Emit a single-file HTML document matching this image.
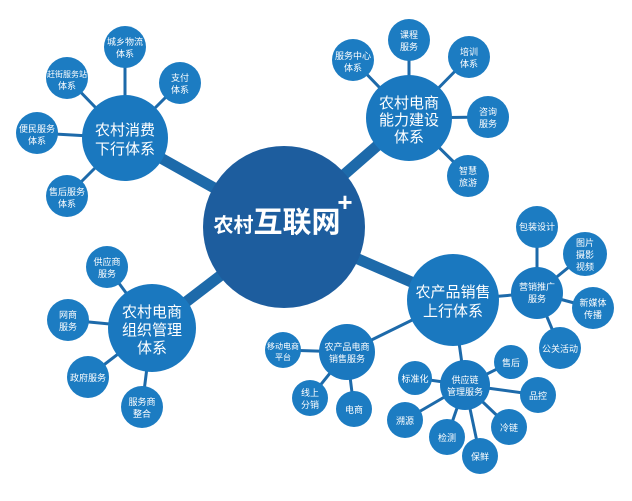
<!DOCTYPE html>
<html><head><meta charset="utf-8"><style>
html,body{margin:0;padding:0;background:#fff;}
svg{display:block}
text{font-family:"Liberation Sans","Noto Sans CJK SC",sans-serif;fill:#fff;text-anchor:middle;}
</style></head><body>
<svg width="632" height="501" viewBox="0 0 632 501" xmlns="http://www.w3.org/2000/svg">
<g stroke="#1d6aaa" stroke-width="11">
<line x1="284" y1="227" x2="125" y2="138"/>
<line x1="284" y1="227" x2="409" y2="118"/>
<line x1="284" y1="227" x2="152" y2="328"/>
<line x1="284" y1="227" x2="453" y2="300"/>
</g>
<g stroke="#1d6aaa" stroke-width="3">
<line x1="125" y1="138" x2="125" y2="47"/><line x1="125" y1="138" x2="67" y2="78"/><line x1="125" y1="138" x2="180" y2="83"/><line x1="125" y1="138" x2="37" y2="133"/><line x1="125" y1="138" x2="67" y2="196"/>
<line x1="409" y1="118" x2="409" y2="40"/><line x1="409" y1="118" x2="353" y2="60"/><line x1="409" y1="118" x2="469" y2="57"/><line x1="409" y1="118" x2="488" y2="117"/><line x1="409" y1="118" x2="468" y2="176"/>
<line x1="152" y1="328" x2="107" y2="267"/><line x1="152" y1="328" x2="68" y2="320"/><line x1="152" y1="328" x2="88" y2="377"/><line x1="152" y1="328" x2="142" y2="407"/>
<line x1="453" y1="300" x2="537" y2="293"/><line x1="453" y1="300" x2="347" y2="352"/><line x1="453" y1="300" x2="465" y2="385"/>
<line x1="537" y1="293" x2="537" y2="227"/><line x1="537" y1="293" x2="585" y2="254"/><line x1="537" y1="293" x2="593" y2="308"/><line x1="537" y1="293" x2="560" y2="348"/>
<line x1="347" y1="352" x2="283" y2="350"/><line x1="347" y1="352" x2="310" y2="398"/><line x1="347" y1="352" x2="354" y2="409"/>
<line x1="465" y1="385" x2="415" y2="378"/><line x1="465" y1="385" x2="511" y2="362"/><line x1="465" y1="385" x2="538" y2="395"/><line x1="465" y1="385" x2="509" y2="427"/><line x1="465" y1="385" x2="480" y2="456"/><line x1="465" y1="385" x2="447" y2="437"/><line x1="465" y1="385" x2="405" y2="420"/>
</g>
<circle cx="284" cy="227" r="81" fill="#1d5d9e"/>
<text x="277" y="232" font-size="20" font-weight="bold"><tspan font-size="20">农村</tspan><tspan font-size="29">互联网</tspan></text>
<text x="345" y="211" font-size="26" font-weight="bold">+</text>
<g fill="#1a78bf">
<circle cx="125" cy="138" r="43"/><circle cx="409" cy="118" r="43"/><circle cx="152" cy="328" r="44"/><circle cx="453" cy="300" r="46"/>
<circle cx="537" cy="293" r="26"/><circle cx="347" cy="352" r="28"/><circle cx="465" cy="385" r="25"/>
</g>
<g fill="#1c7cc2">
<circle cx="125" cy="47" r="21"/><circle cx="67" cy="78" r="21"/><circle cx="180" cy="83" r="21"/><circle cx="37" cy="133" r="21"/><circle cx="67" cy="196" r="21"/>
<circle cx="409" cy="40" r="21"/><circle cx="353" cy="60" r="21"/><circle cx="469" cy="57" r="21"/><circle cx="488" cy="117" r="21"/><circle cx="468" cy="176" r="21"/>
<circle cx="107" cy="267" r="21"/><circle cx="68" cy="320" r="21"/><circle cx="88" cy="377" r="21"/><circle cx="142" cy="407" r="21"/>
<circle cx="537" cy="227" r="21"/><circle cx="585" cy="254" r="22"/><circle cx="593" cy="308" r="21"/><circle cx="560" cy="348" r="21"/>
<circle cx="283" cy="350" r="18"/><circle cx="310" cy="398" r="18"/><circle cx="354" cy="409" r="18"/>
<circle cx="415" cy="378" r="17"/><circle cx="511" cy="362" r="17"/><circle cx="538" cy="395" r="18"/><circle cx="509" cy="427" r="18"/><circle cx="480" cy="456" r="18"/><circle cx="447" cy="437" r="18"/><circle cx="405" cy="420" r="18"/>
</g>
<g font-size="15">
<text x="125" y="135">农村消费</text><text x="125" y="154">下行体系</text>
<text x="409" y="108">农村电商</text><text x="409" y="125">能力建设</text><text x="409" y="142">体系</text>
<text x="152" y="317">农村电商</text><text x="152" y="335">组织管理</text><text x="152" y="353">体系</text>
<text x="453" y="297">农产品销售</text><text x="453" y="316">上行体系</text>
</g>
<g font-size="9">
<text x="125" y="45">城乡物流</text><text x="125" y="57">体系</text>
<text x="67" y="77" font-size="8">赶街服务站</text><text x="67" y="89">体系</text>
<text x="180" y="81">支付</text><text x="180" y="93">体系</text>
<text x="37" y="132">便民服务</text><text x="37" y="144">体系</text>
<text x="67" y="195">售后服务</text><text x="67" y="207">体系</text>
<text x="409" y="38">课程</text><text x="409" y="50">服务</text>
<text x="353" y="59">服务中心</text><text x="353" y="71">体系</text>
<text x="469" y="55">培训</text><text x="469" y="67">体系</text>
<text x="488" y="115">咨询</text><text x="488" y="127">服务</text>
<text x="468" y="174">智慧</text><text x="468" y="186">旅游</text>
<text x="107" y="265">供应商</text><text x="107" y="277">服务</text>
<text x="68" y="318">网商</text><text x="68" y="330">服务</text>
<text x="88" y="381">政府服务</text>
<text x="142" y="405">服务商</text><text x="142" y="417">整合</text>
<text x="537" y="230">包装设计</text>
<text x="585" y="246">图片</text><text x="585" y="258">摄影</text><text x="585" y="270">视频</text>
<text x="593" y="306">新媒体</text><text x="593" y="318">传播</text>
<text x="560" y="352">公关活动</text>
<text x="537" y="290">营销推广</text><text x="537" y="302">服务</text>
<text x="347" y="350">农产品电商</text><text x="347" y="362">销售服务</text>
<text x="465" y="383">供应链</text><text x="465" y="395">管理服务</text>
<text x="283" y="349" font-size="8">移动电商</text><text x="283" y="360" font-size="8">平台</text>
<text x="310" y="396">线上</text><text x="310" y="408">分销</text>
<text x="354" y="413">电商</text>
<text x="415" y="382">标准化</text><text x="511" y="366">售后</text><text x="538" y="399">品控</text>
<text x="509" y="431">冷链</text><text x="480" y="460">保鲜</text><text x="447" y="441">检测</text><text x="405" y="424">溯源</text>
</g>
</svg>
</body></html>
